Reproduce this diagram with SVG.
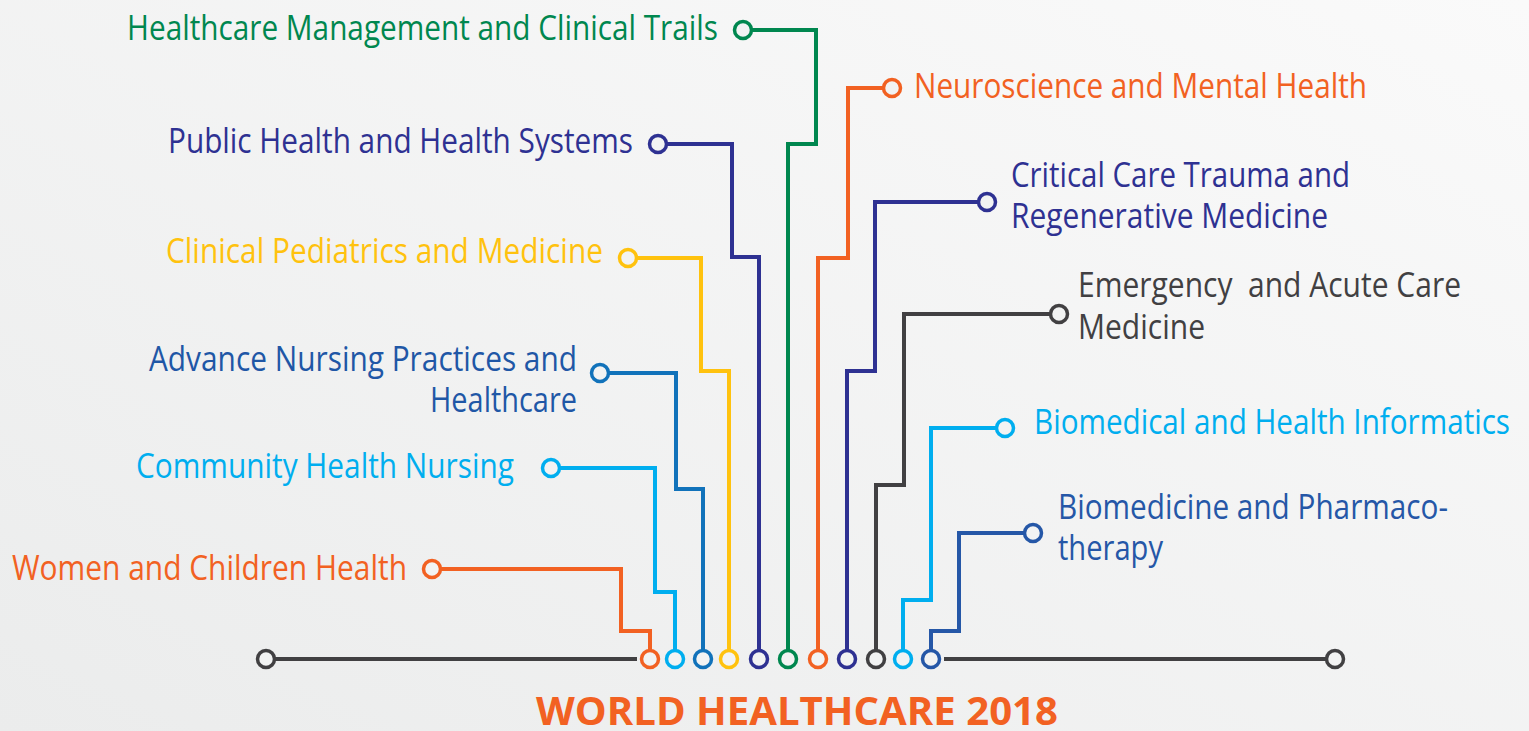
<svg xmlns="http://www.w3.org/2000/svg" width="1529" height="731" viewBox="0 0 1529 731">
<defs>
<linearGradient id="bg" x1="1" y1="0" x2="0" y2="1">
<stop offset="0" stop-color="#FAFAFA"/>
<stop offset="1" stop-color="#EBECEC"/>
</linearGradient>
<style>
.lbl{font-family:"Open Sans","Noto Sans","Liberation Sans",sans-serif;font-size:34px;}
.end{text-anchor:end;}
.ln{fill:none;stroke-width:4;stroke-linejoin:miter;stroke-linecap:butt;}
.dot{fill:#F2F3F3;stroke-width:3.5;}
.title{font-family:"Open Sans","Liberation Sans",sans-serif;font-size:40px;font-weight:bold;fill:#F26122;}
</style>
</defs>
<rect x="0" y="0" width="1529" height="731" fill="url(#bg)"/>

<g id="connectors">
<line x1="266" y1="659" x2="637" y2="659" stroke="#414042" stroke-width="4"/>
<line x1="944" y1="659" x2="1335" y2="659" stroke="#414042" stroke-width="4"/>
<polyline class="ln" stroke="#F26122" points="432,569 621,569 621,631 650,631 650,659"/>
<polyline class="ln" stroke="#00AEEF" points="551,468 655,468 655,592 675,592 675,659"/>
<polyline class="ln" stroke="#1172BA" points="600,373 676,373 676,489 703,489 703,659"/>
<polyline class="ln" stroke="#FFC20E" points="628,258 701,258 701,371 729,371 729,659"/>
<polyline class="ln" stroke="#2E3192" points="658,144 732,144 732,257 759,257 759,659"/>
<polyline class="ln" stroke="#00874F" points="743,30 816,30 816,144 788,144 788,659"/>
<polyline class="ln" stroke="#F26122" points="892,88 848,88 848,258 818,258 818,659"/>
<polyline class="ln" stroke="#2E3192" points="987,202 875,202 875,371 847,371 847,659"/>
<polyline class="ln" stroke="#414042" points="1059,314 904,314 904,485 876,485 876,659"/>
<polyline class="ln" stroke="#00AEEF" points="1005,428 931,428 931,600 903,600 903,659"/>
<polyline class="ln" stroke="#2557A7" points="1033,533 959,533 959,631 931,631 931,659"/>
</g>

<g id="axis">
<circle class="dot" cx="266" cy="659" r="8.5" stroke="#414042"/>
<circle class="dot" cx="1335" cy="659" r="8.5" stroke="#414042"/>
<circle class="dot" cx="650" cy="659" r="8.5" stroke="#F26122"/>
<circle class="dot" cx="675" cy="659" r="8.5" stroke="#00AEEF"/>
<circle class="dot" cx="703" cy="659" r="8.5" stroke="#1172BA"/>
<circle class="dot" cx="729" cy="659" r="8.5" stroke="#FFC20E"/>
<circle class="dot" cx="759" cy="659" r="8.5" stroke="#2E3192"/>
<circle class="dot" cx="788" cy="659" r="8.5" stroke="#00874F"/>
<circle class="dot" cx="818" cy="659" r="8.5" stroke="#F26122"/>
<circle class="dot" cx="847" cy="659" r="8.5" stroke="#2E3192"/>
<circle class="dot" cx="876" cy="659" r="8.5" stroke="#414042"/>
<circle class="dot" cx="903" cy="659" r="8.5" stroke="#00AEEF"/>
<circle class="dot" cx="931" cy="659" r="8.5" stroke="#2557A7"/>
</g>

<g id="women">
<circle class="dot" cx="432" cy="569" r="8.5" stroke="#F26122"/>
<text class="lbl end" x="407" y="580" fill="#F26122" textLength="395" lengthAdjust="spacingAndGlyphs">Women and Children Health</text>
</g>
<g id="community">
<circle class="dot" cx="551" cy="468" r="8.5" stroke="#00AEEF"/>
<text class="lbl end" x="514" y="478" fill="#00AEEF" textLength="378" lengthAdjust="spacingAndGlyphs">Community Health Nursing</text>
</g>
<g id="advance">
<circle class="dot" cx="600" cy="373" r="8.5" stroke="#1172BA"/>
<text class="lbl end" x="577" y="371" fill="#1F57A6" textLength="428" lengthAdjust="spacingAndGlyphs">Advance Nursing Practices and</text>
<text class="lbl end" x="577" y="412" fill="#1F57A6" textLength="147" lengthAdjust="spacingAndGlyphs">Healthcare</text>
</g>
<g id="pediatrics">
<circle class="dot" cx="628" cy="258" r="8.5" stroke="#FFC20E"/>
<text class="lbl end" x="603" y="263" fill="#FFC20E" textLength="437" lengthAdjust="spacingAndGlyphs">Clinical Pediatrics and Medicine</text>
</g>
<g id="public">
<circle class="dot" cx="658" cy="144" r="8.5" stroke="#2E3192"/>
<text class="lbl end" x="633" y="153" fill="#2E3192" textLength="465" lengthAdjust="spacingAndGlyphs">Public Health and Health Systems</text>
</g>
<g id="management">
<circle class="dot" cx="743" cy="30" r="8.5" stroke="#00874F"/>
<text class="lbl end" x="718" y="40" fill="#00874F" textLength="591" lengthAdjust="spacingAndGlyphs">Healthcare Management and Clinical Trails</text>
</g>
<g id="neuroscience">
<circle class="dot" cx="892" cy="88" r="8.5" stroke="#F26122"/>
<text class="lbl" x="914" y="98" fill="#F26122" textLength="453" lengthAdjust="spacingAndGlyphs">Neuroscience and Mental Health</text>
</g>
<g id="critical">
<circle class="dot" cx="987" cy="202" r="8.5" stroke="#2E3192"/>
<text class="lbl" x="1011" y="187" fill="#2E3192" textLength="339" lengthAdjust="spacingAndGlyphs">Critical Care Trauma and</text>
<text class="lbl" x="1011" y="228" fill="#2E3192" textLength="317" lengthAdjust="spacingAndGlyphs">Regenerative Medicine</text>
</g>
<g id="emergency">
<circle class="dot" cx="1059" cy="314" r="8.5" stroke="#414042"/>
<text class="lbl" x="1078" y="297" fill="#414042" textLength="383" lengthAdjust="spacingAndGlyphs" xml:space="preserve">Emergency  and Acute Care</text>
<text class="lbl" x="1078" y="339" fill="#414042" textLength="127" lengthAdjust="spacingAndGlyphs">Medicine</text>
</g>
<g id="informatics">
<circle class="dot" cx="1005" cy="428" r="8.5" stroke="#00AEEF"/>
<text class="lbl" x="1034" y="434" fill="#00AEEF" textLength="476" lengthAdjust="spacingAndGlyphs">Biomedical and Health Informatics</text>
</g>
<g id="biomedicine">
<circle class="dot" cx="1033" cy="533" r="8.5" stroke="#2557A7"/>
<text class="lbl" x="1058" y="519" fill="#2557A7" textLength="390" lengthAdjust="spacingAndGlyphs">Biomedicine and Pharmaco-</text>
<text class="lbl" x="1058" y="560" fill="#2557A7" textLength="105" lengthAdjust="spacingAndGlyphs">therapy</text>
</g>

<g id="title">
<text class="title" x="536" y="725" textLength="522" lengthAdjust="spacingAndGlyphs">WORLD HEALTHCARE 2018</text>
</g>
</svg>
